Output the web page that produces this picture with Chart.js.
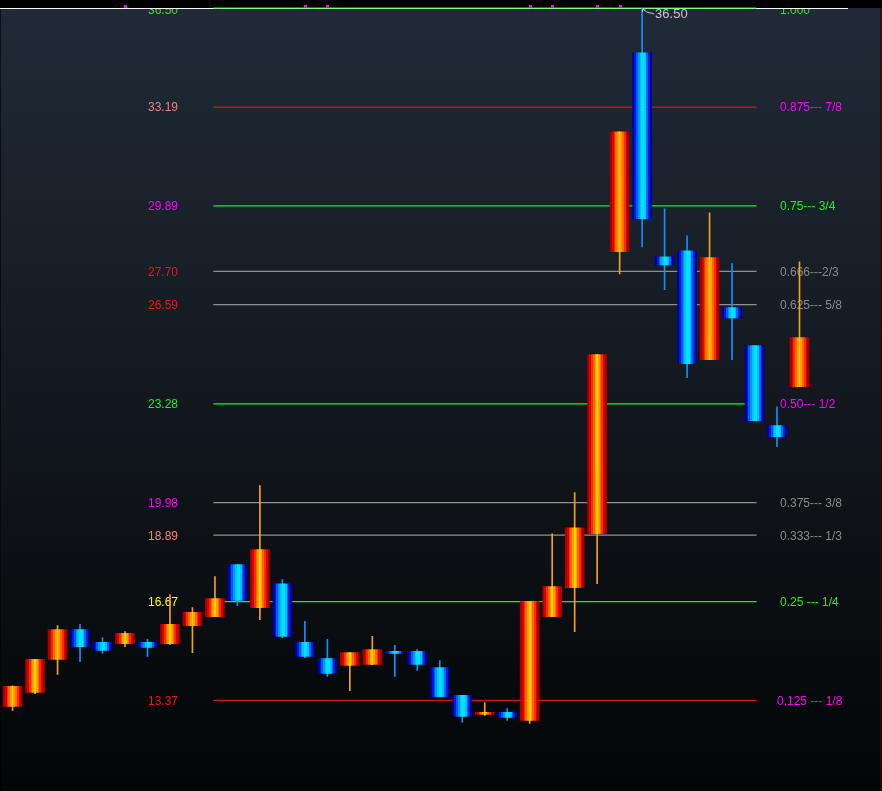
<!DOCTYPE html>
<html>
<head>
<meta charset="utf-8">
<script src="https://cdn.jsdelivr.net/npm/chart.js@4.4.1/dist/chart.umd.min.js"></script>
<style>
    html, body { margin: 0; padding: 0; background: #000; overflow: hidden; }
    #wrap { width: 882px; height: 791px; }
</style>
</head>
<body>
<div id="wrap"><canvas id="kline" width="882" height="791"></canvas></div>
<script>
// Kerzen (Index 0..35)
const opens  = [13.17,13.64,14.74,15.74,15.31,15.27,15.31,15.27,15.87,16.17,17.91,16.47,17.27,15.31,14.77,14.54,14.57,15.01,15.01,14.47,13.54,12.90,12.97,12.70,16.17,17.14,18.94,28.36,35.00,28.19,28.39,24.75,26.49,25.22,22.55,23.85];
const highs  = [13.86,14.74,15.87,15.91,15.47,15.67,15.41,16.91,16.47,17.51,17.91,20.55,17.41,16.01,15.41,14.97,15.51,15.21,15.07,14.70,13.54,13.30,13.10,16.67,18.94,20.31,24.92,32.36,36.50,29.79,28.89,29.66,27.96,25.22,23.18,28.02];
const lows   = [13.04,13.60,14.24,14.67,14.94,15.17,14.84,15.24,14.97,16.17,16.54,16.07,15.47,14.80,14.17,13.70,14.57,14.17,14.37,13.50,12.64,12.87,12.70,12.60,16.17,15.67,17.27,27.62,28.52,27.09,24.15,24.75,24.75,22.72,21.85,23.85];
const closes = [13.84,14.74,15.74,15.17,15.04,15.61,15.14,15.91,16.31,16.77,16.71,18.41,15.51,14.84,14.27,14.97,15.07,14.94,14.57,13.50,12.84,12.97,12.80,16.67,17.17,19.14,24.92,32.36,29.46,27.92,24.62,28.16,26.15,22.72,22.18,25.49];

// Fibonacci-Niveaus
const fibPrices  = [36.50, 33.19, 29.89, 27.70, 26.59, 23.28, 19.98, 18.89, 16.67, 13.37];
const fibLeftTxt = ['36.50','33.19','29.89','27.70','26.59','23.28','19.98','18.89','16.67','13.37'];
const fibRightTxt = ['1.000','0.875--- 7/8','0.75--- 3/4','0.666---2/3','0.625--- 5/8','0.50--- 1/2','0.375--- 3/8','0.333--- 1/3','0.25 --- 1/4','0.125 --- 1/8'];
const fibLeftColor  = ['#22ee22','#ff7b7b','#ff00ff','#ff1010','#ff1010','#22ee22','#ff00ff','#ff8080','#ffff00','#ff1010'];
const fibRightColor = ['#22ee22','#ff00ff','#22ee22','#8a8a8a','#8a8a8a','#ff00ff','#8a8a8a','#8a8a8a','#22ee22','#ff00ff'];
const fibLineColor  = ['#00ff00','#c02020','#00ff00','#909090','#909090','#00ff00','#909090','#909090','#00ff00','#d01010'];
const fibFrom = 8.93;   // Kerzenindex, an dem die Linien beginnen
const fibTo   = 33.09;  // ... und enden

// Markierungen im oberen Streifen (Kerzenindex)
const markIdx = [5, 13, 14, 23, 24, 26, 27];
const highIdx = 28;

const upBands   = ['#a80000','#d80000','#ff2a00','#ff6a00','#ffa000','#ffd400','#ffa000','#ff6a00','#ff2a00','#d80000','#a80000'];
const downBands = ['#00009c','#0018e0','#0058ff','#0098ff','#00c8ff','#00e2ff','#00e2ff','#00c0ff','#0068ff','#0020d8','#00009c'];
const BODY_W = 19;

const idx = opens.map((_, i) => i);
const isUp = idx.map(i => closes[i] >= opens[i]);

function bandFill(context) {
    const chart = context.chart;
    const xs = chart.scales.x;
    const i = context.dataIndex;
    const bands = isUp[i] ? upBands : downBands;
    if (!xs || i === undefined) return bands[5];
    const cx = xs.getPixelForValue(i);
    if (!isFinite(cx)) return bands[5];
    const g = chart.ctx.createLinearGradient(cx - BODY_W / 2, 0, cx + BODY_W / 2, 0);
    const n = bands.length;
    bands.forEach((c, k) => {
        g.addColorStop(k / n, c);
        g.addColorStop(Math.min(1, (k + 1) / n - 0.001), c);
    });
    return g;
}

const bodyData = idx.map(i => ({ x: i, y: [Math.min(opens[i], closes[i]), Math.max(opens[i], closes[i])] }));
const wickData = idx.map(i => ({ x: i, y: [lows[i], highs[i]] }));

const fibDatasets = fibPrices.map((p, k) => ({
    type: 'line',
    data: [{ x: fibFrom, y: p }, { x: fibTo, y: p }],
    borderColor: fibLineColor[k],
    borderWidth: 1.2,
    pointRadius: 0,
    order: 5,
    clip: 2
}));

const FONT = '12px "Liberation Sans", Arial, sans-serif';

const decor = {
    id: 'decor',
    beforeDraw(chart) {
        const { ctx, chartArea: a } = chart;
        ctx.save();
        ctx.fillStyle = '#000';
        ctx.fillRect(0, 0, chart.width, chart.height);
        const g = ctx.createLinearGradient(0, a.top, 0, a.bottom);
        g.addColorStop(0, '#202b37');
        g.addColorStop(0.45, '#141a21');
        g.addColorStop(1, '#030506');
        ctx.fillStyle = g;
        ctx.fillRect(a.left, a.top, a.right - a.left, a.bottom - a.top);
        ctx.restore();
    },
    beforeDatasetsDraw(chart) {
        const { ctx, chartArea: a, scales: { y } } = chart;
        ctx.save();
        ctx.beginPath();
        ctx.rect(a.left, a.top, a.right - a.left, a.bottom - a.top);
        ctx.clip();
        ctx.font = FONT;
        ctx.textBaseline = 'middle';
        fibPrices.forEach((p, k) => {
            const py = y.getPixelForValue(p) + (k === 0 ? 3 : 1);
            ctx.textAlign = 'right';
            ctx.fillStyle = fibLeftColor[k];
            ctx.fillText(fibLeftTxt[k], 178, py);
            ctx.textAlign = 'left';
            ctx.fillStyle = fibRightColor[k];
            ctx.fillText(fibRightTxt[k], k === 9 ? 777 : 780, py);
        });
        ctx.restore();
        // obere Rahmenlinie
        ctx.save();
        ctx.fillStyle = '#ffffff';
        ctx.fillRect(0, a.top, 848, 1);
        ctx.restore();
    },
    afterDraw(chart) {
        const { ctx, chartArea: a, scales: { x, y } } = chart;
        ctx.save();
        ctx.fillStyle = '#ff00ff';
        markIdx.forEach(i => {
            const px = Math.round(x.getPixelForValue(i));
            ctx.fillRect(px - 1, 5, 3, 3);
        });
        // Hoch-Markierung
        const hx = x.getPixelForValue(highIdx);
        const hy = y.getPixelForValue(highs[highIdx]);
        ctx.strokeStyle = '#c8c8c8';
        ctx.lineWidth = 1;
        ctx.beginPath();
        ctx.moveTo(hx + 0.5, hy + 1);
        ctx.lineTo(hx + 0.5, hy + 4);
        ctx.moveTo(hx + 0.5, hy + 1);
        ctx.lineTo(hx + 3.5, hy + 1);
        ctx.moveTo(hx + 0.5, hy + 1);
        ctx.quadraticCurveTo(hx + 5, hy + 5, hx + 8, hy + 5);
        ctx.quadraticCurveTo(hx + 10, hy + 5, hx + 12, hy + 6);
        ctx.stroke();
        ctx.font = '13px "Liberation Sans", Arial, sans-serif';
        ctx.fillStyle = '#c8c8c8';
        ctx.textAlign = 'left';
        ctx.textBaseline = 'middle';
        ctx.fillText('36.50', hx + 13, hy + 6);
        // rechter Rand
        ctx.fillStyle = '#5a0000';
        ctx.fillRect(a.right - 1, a.top, 1, a.bottom - a.top);
        ctx.restore();
    }
};

const chart = new Chart(document.getElementById('kline').getContext('2d'), {
    type: 'bar',
    data: {
        datasets: [
            {
                data: bodyData,
                backgroundColor: bandFill,
                borderWidth: 0,
                barThickness: BODY_W,
                grouped: false,
                order: 0
            },
            {
                data: wickData,
                backgroundColor: idx.map(i => isUp[i] ? '#f7a020' : '#1a8cff'),
                borderWidth: 0,
                barThickness: 1,
                grouped: false,
                order: 1
            },
            ...fibDatasets
        ]
    },
    options: {
        responsive: false,
        animation: false,
        layout: { padding: { top: 8, left: 0, right: 0, bottom: 0 } },
        plugins: { legend: { display: false }, tooltip: { enabled: false } },
        scales: {
            x: { type: 'linear', display: false, min: -0.533, max: 38.643, offset: false },
            y: { type: 'linear', display: false, min: 10.366, max: 36.50 }
        }
    },
    plugins: [decor]
});
chart.update();
</script>
</body>
</html>
